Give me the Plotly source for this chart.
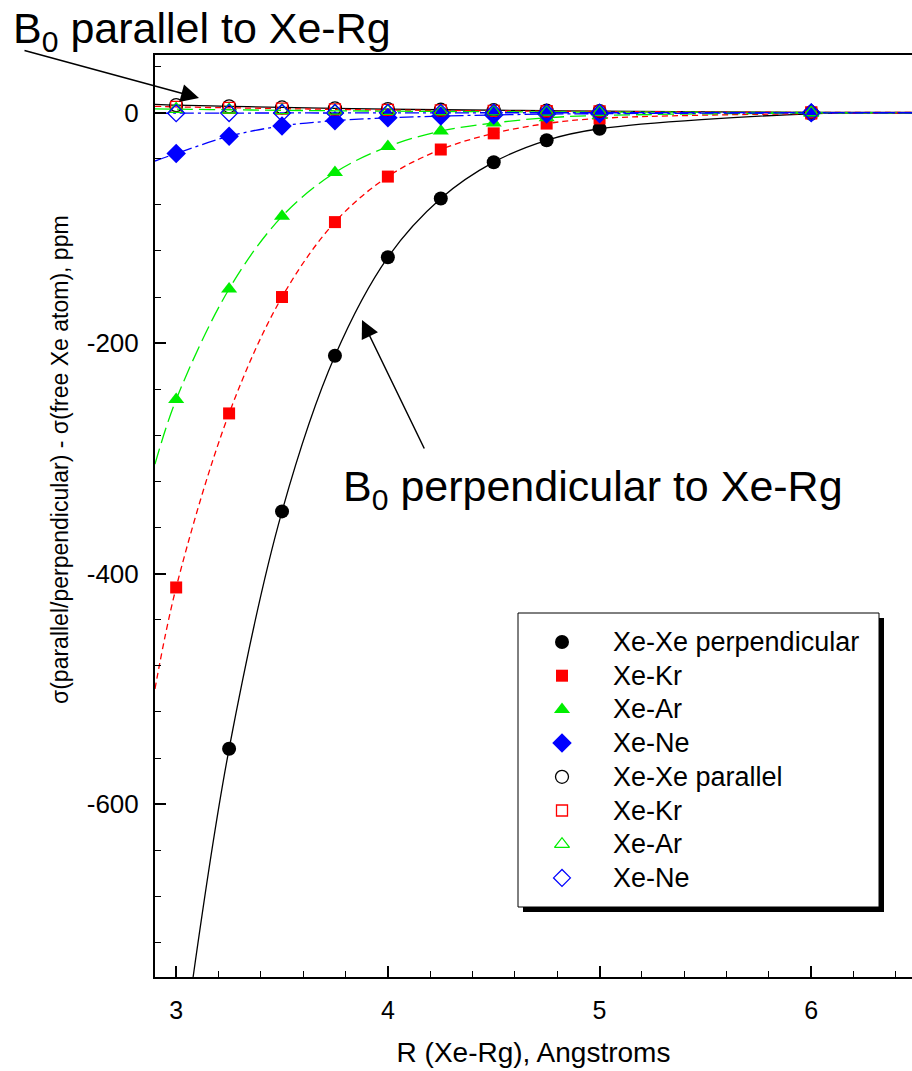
import plotly.graph_objects as go

# Xe–Rg separation (Angstroms) at which shielding was computed
r = [3.0, 3.25, 3.5, 3.75, 4.0, 4.25, 4.5, 4.75, 5.0, 6.0]

# Shielding relative to the free Xe atom (ppm), B0 perpendicular to the pair axis
perp_xe_xe = [None, -552, -346, -211, -125.5, -74.5, -43, -24, -14, -1.0]
perp_xe_kr = [-412, -261, -160, -95, -55.5, -32, -18, -9.5, -5, -0.8]
perp_xe_ar = [-249, -153, -90, -52, -29.5, -16, -9, -4.5, -2.5, -0.3]
perp_xe_ne = [-35.5, -20.5, -11.5, -7, -4.5, -3, -2, -1.3, -0.9, -0.2]

# Shielding relative to the free Xe atom (ppm), B0 parallel to the pair axis
par_xe_xe = [6.5, 5.5, 4.5, 3.7, 3.0, 2.5, 2.1, 1.7, 1.3, 0.3]
par_xe_kr = [5.0, 4.2, 3.5, 2.8, 2.3, 1.9, 1.5, 1.2, 1.0, 0.2]
par_xe_ar = [3.0, 2.5, 2.0, 1.6, 1.3, 1.0, 0.8, 0.6, 0.5, 0.1]
par_xe_ne = [-0.5, -0.4, -0.3, -0.3, -0.2, -0.2, -0.1, -0.1, -0.1, 0.0]

# Fitted-curve end points beyond the computed separations
fit_left_r = {"xexe": 3.08, "other": 2.9}
fit_right_r = 6.48
perp_left = {"xexe": -750, "xekr": -500, "xear": -305, "xene": -42}
perp_right = {"xexe": -0.5, "xekr": -0.3, "xear": -0.1, "xene": -0.1}
par_left = {"xexe": 7.2, "xekr": 5.5, "xear": 3.3, "xene": -0.6}
par_right = {"xexe": 0.1, "xekr": 0.1, "xear": 0.0, "xene": 0.0}

# Axis ticks
x_ticks = [3, 4, 5, 6]
x_tick_text = ["3", "4", "5", "6"]
y_ticks = [-600, -400, -200, 0]
y_tick_text = ["-600", "-400", "-200", "0"]

legend_names = ["Xe-Xe perpendicular", "Xe-Kr", "Xe-Ar", "Xe-Ne",
                "Xe-Xe parallel", "Xe-Kr", "Xe-Ar", "Xe-Ne"]

BLACK, RED, GREEN, BLUE = "#000000", "#ff0000", "#00ee00", "#0000ff"
FONT = "'Liberation Sans', Arial, sans-serif"

series = [
    # key, perp values, parallel values, colour, dash, filled symbol, size, open symbol, open size
    ("xexe", perp_xe_xe, par_xe_xe, BLACK, "solid", "circle", 14, "circle-open", 13),
    ("xekr", perp_xe_kr, par_xe_kr, RED, "6px,4px", "square", 12, "square-open", 11),
    ("xear", perp_xe_ar, par_xe_ar, GREEN, "16px,6px", "triangle-up", 14, "triangle-up-open", 13),
    ("xene", perp_xe_ne, par_xe_ne, BLUE, "14px,4px,3px,4px", "diamond", 15, "diamond-open", 13),
]

# page geometry (pixels)
W, H = 912, 1071
ML, MR, MT, MB = 155, 0, 55, 94
PW, PH = W - ML - MR, H - MT - MB


def px_x(p):
    return (p - ML) / PW


def px_y(p):
    return (H - MB - p) / PH


fig = go.Figure()

# fitted curves
for key, perp, par, col, dash, *_ in series:
    left_r = fit_left_r["xexe"] if key == "xexe" else fit_left_r["other"]
    px = [left_r] + [x for x, v in zip(r, perp) if v is not None] + [fit_right_r]
    py = [perp_left[key]] + [v for v in perp if v is not None] + [perp_right[key]]
    fig.add_trace(go.Scatter(x=px, y=py, mode="lines", showlegend=False,
                             line=dict(color=col, width=1.3, dash=dash, shape="spline"),
                             hoverinfo="skip"))
    qx = [fit_left_r["other"]] + r + [fit_right_r]
    qy = [par_left[key]] + par + [par_right[key]]
    fig.add_trace(go.Scatter(x=qx, y=qy, mode="lines", showlegend=False,
                             line=dict(color=col, width=1.3, dash=dash, shape="spline"),
                             hoverinfo="skip"))

# computed points: perpendicular (filled) then parallel (open)
marker_styles = []
for key, perp, par, col, dash, sym, size, osym, osize in series:
    marker_styles.append(dict(symbol=sym, size=size, color=col, line=dict(width=0)))
    fig.add_trace(go.Scatter(x=r, y=perp, mode="markers", showlegend=False,
                             marker=marker_styles[-1]))
for key, perp, par, col, dash, sym, size, osym, osize in series:
    marker_styles.append(dict(symbol=osym, size=osize, color=col, line=dict(width=1.3, color=col)))
    fig.add_trace(go.Scatter(x=r, y=par, mode="markers", showlegend=False,
                             marker=marker_styles[-1]))

# legend key: symbols on a pixel-scaled overlay axis, labels as annotations
LEG_SYM_X, LEG_TEXT_X, LEG_ROW0, LEG_STEP = 562, 611, 642, 33.7
for i, style in enumerate(marker_styles):
    fig.add_trace(go.Scatter(x=[LEG_SYM_X], y=[LEG_ROW0 + i * LEG_STEP], mode="markers",
                             xaxis="x2", yaxis="y2", showlegend=False, cliponaxis=False,
                             marker=style, hoverinfo="skip"))

annotations = []
for i, name in enumerate(legend_names):
    annotations.append(dict(xref="paper", yref="paper", x=px_x(LEG_TEXT_X),
                            y=px_y(LEG_ROW0 + i * LEG_STEP), xanchor="left", yanchor="middle",
                            text=name, showarrow=False, font=dict(size=27)))

# legend frame with drop shadow
shapes = [
    dict(type="rect", xref="paper", yref="paper", layer="below",
         x0=px_x(523), x1=px_x(884), y0=px_y(912), y1=px_y(618),
         fillcolor="black", line=dict(width=0)),
    dict(type="rect", xref="paper", yref="paper", layer="below",
         x0=px_x(518), x1=px_x(879), y0=px_y(907), y1=px_y(613),
         fillcolor="white", line=dict(color="black", width=1)),
]

annotations += [
    dict(xref="paper", yref="paper", x=px_x(11), y=px_y(31), xanchor="left", yanchor="middle",
         text="B<sub>0</sub> parallel to Xe-Rg", showarrow=False, font=dict(size=43)),
    dict(xref="paper", yref="paper", x=px_x(341), y=px_y(489), xanchor="left", yanchor="middle",
         text="B<sub>0</sub> perpendicular to Xe-Rg", showarrow=False, font=dict(size=43)),
    dict(xref="paper", yref="paper", x=px_x(199), y=px_y(98), text="", showarrow=True,
         ax=23 - 199, ay=50 - 98, arrowhead=2, arrowsize=2.4, arrowwidth=1.5,
         arrowcolor="black", standoff=0, startstandoff=0),
    dict(xref="paper", yref="paper", x=px_x(362), y=px_y(320), text="", showarrow=True,
         ax=425 - 362, ay=450 - 320, arrowhead=2, arrowsize=2.4, arrowwidth=1.5,
         arrowcolor="black", standoff=0, startstandoff=0),
    # y-axis title
    dict(xref="paper", yref="paper", x=px_x(60), y=px_y(460), xanchor="center", yanchor="middle",
         text="σ(parallel/perpendicular) - σ(free Xe atom), ppm", textangle=-90,
         showarrow=False, font=dict(size=23)),
]

xaxis = dict(
    range=[2.9, 2.9 + PW / 211.7], tickmode="array", tickvals=x_ticks, ticktext=x_tick_text,
    ticks="inside", ticklen=11, tickwidth=1.5, tickcolor="black",
    showline=True, linewidth=2, linecolor="black", mirror=True,
    showgrid=False, zeroline=False, tickfont=dict(size=25), ticklabelstandoff=10,
    minor=dict(tick0=3, dtick=0.2, ticks="inside", ticklen=6, tickwidth=1, tickcolor="black"),
    title=dict(text="R (Xe-Rg), Angstroms", font=dict(size=28), standoff=19),
)
yaxis = dict(
    range=[-750, 50], tickmode="array", tickvals=y_ticks, ticktext=y_tick_text,
    ticks="inside", ticklen=11, tickwidth=1.5, tickcolor="black",
    showline=True, linewidth=2, linecolor="black",
    showgrid=False, zeroline=False, tickfont=dict(size=26), ticklabelstandoff=9,
    minor=dict(tick0=0, dtick=40, ticks="inside", ticklen=6, tickwidth=1, tickcolor="black"),
)

fig.update_layout(
    width=W, height=H,
    margin=dict(l=ML, r=MR, t=MT, b=MB),
    plot_bgcolor="white", paper_bgcolor="white",
    font=dict(family=FONT, color="black"),
    shapes=shapes, annotations=annotations, showlegend=False,
    xaxis=xaxis, yaxis=yaxis,
    xaxis2=dict(overlaying="x", anchor="y2", range=[ML, W - MR], visible=False, fixedrange=True),
    yaxis2=dict(overlaying="y", anchor="x2", range=[H - MB, MT], visible=False, fixedrange=True),
)

fig.write_html("out.html")
